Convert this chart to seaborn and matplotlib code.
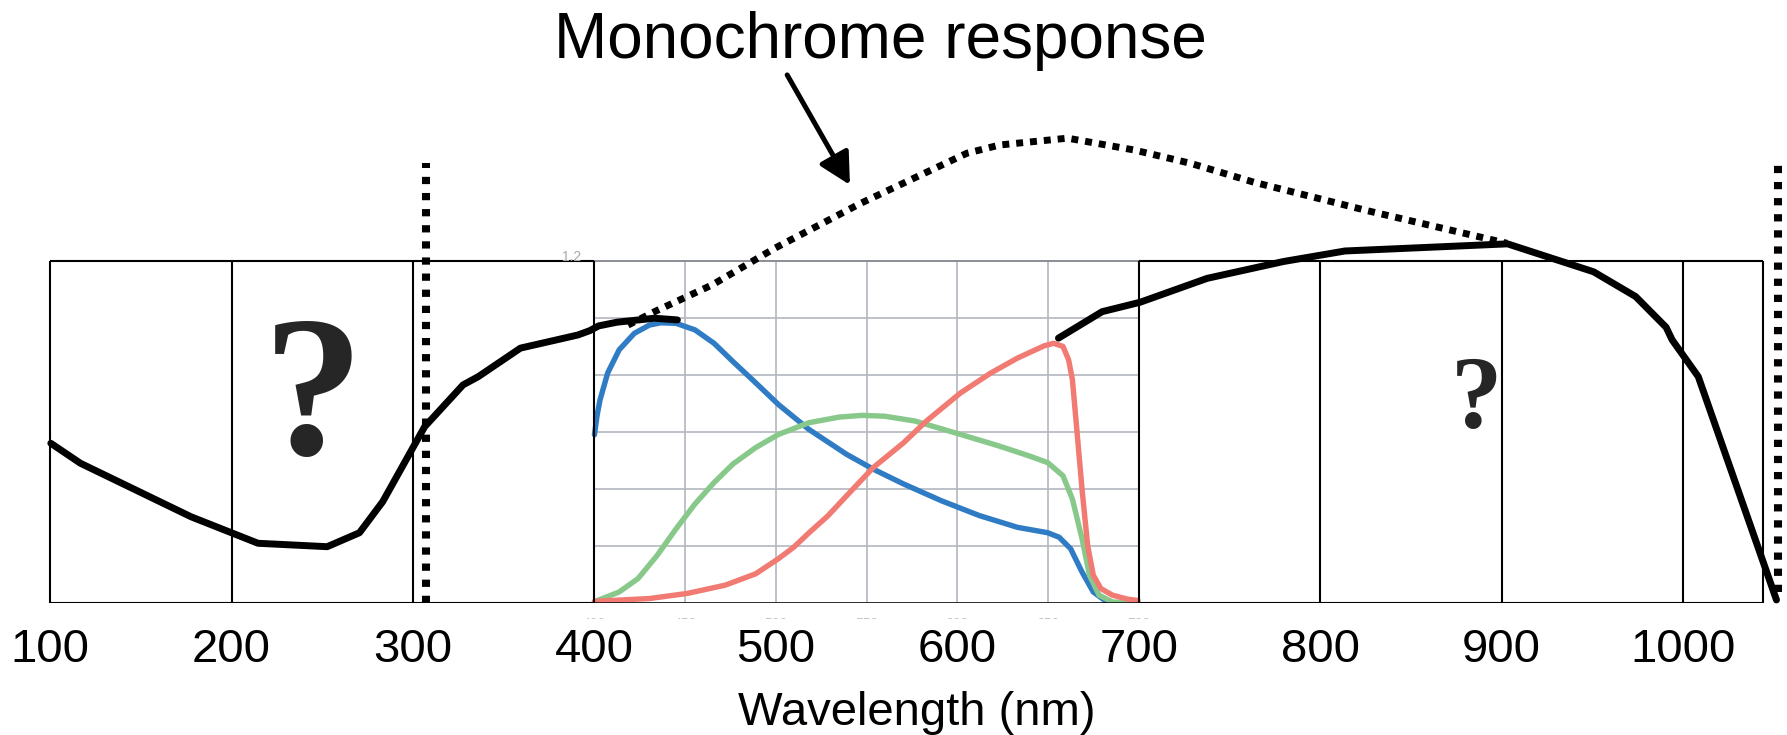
import matplotlib
matplotlib.use("Agg")
import matplotlib.pyplot as plt
import seaborn as sns
from matplotlib.transforms import Bbox, TransformedBbox

# ---------------- data ----------------
# measured monochrome response (solid black), wavelength in nm
mono_left_nm = [100.4, 116.7, 177.7, 214.6, 252.7, 270.5, 283.3, 306.4, 327.6, 336.0,
                359.2, 390.8, 397.3, 402.3, 412.4, 433.1, 445.7]
mono_left_resp = [0.560, 0.490, 0.302, 0.209, 0.197, 0.246, 0.355, 0.618, 0.765, 0.794,
                  0.894, 0.940, 0.955, 0.972, 0.985, 0.999, 0.993]
mono_right_nm = [655.7, 679.8, 700.7, 737.7, 779.7, 813.6, 903.2, 950.6, 973.8, 990.6,
                 993.9, 1008.3, 1051.4]
mono_right_resp = [0.929, 1.022, 1.055, 1.139, 1.198, 1.235, 1.260, 1.162, 1.075, 0.967,
                   0.923, 0.794, 0.010]
# extrapolated monochrome response (dotted)
mono_dot_nm = [418.5, 433.1, 464.9, 499.2, 546.6, 575.9, 605.2, 623.3, 660.7, 697.0,
               728.3, 763.6, 826.2, 902.9]
mono_dot_resp = [0.975, 1.022, 1.116, 1.244, 1.402, 1.490, 1.578, 1.607, 1.631, 1.590,
                 1.543, 1.476, 1.376, 1.262]

# inner RGB response chart
blue_nm = [400, 401.5, 403.1, 407.3, 413.6, 422, 430.3, 436.6, 445, 455.4, 465.9, 476.3,
           488.9, 501.4, 518.1, 539, 553.7, 570.4, 591.3, 612.2, 633.1, 649.8, 656.1,
           662.4, 668.7, 674.9, 681.2, 685.4]
blue_resp = [0.59, 0.66, 0.713, 0.807, 0.888, 0.946, 0.975, 0.983, 0.981, 0.958, 0.911,
             0.847, 0.772, 0.696, 0.609, 0.521, 0.469, 0.417, 0.358, 0.306, 0.265, 0.246,
             0.230, 0.190, 0.108, 0.038, 0.009, 0.0]
green_nm = [400, 413.6, 424, 434.5, 445, 455.4, 465.9, 476.3, 488.9, 501.4, 518.1, 534.9,
            547.4, 559.9, 576.7, 601.8, 622.7, 639.4, 649.8, 658.2, 663.4, 668.7, 672.8,
            678.1, 685.4, 693.7]
green_resp = [0.004, 0.038, 0.085, 0.166, 0.260, 0.347, 0.422, 0.487, 0.545, 0.591, 0.632,
              0.652, 0.658, 0.655, 0.638, 0.591, 0.551, 0.516, 0.492, 0.446, 0.364, 0.225,
              0.097, 0.027, 0.003, 0.0]
red_nm = [400, 430.3, 451.2, 472.1, 488.9, 501.4, 509.8, 518.1, 528.6, 539, 553.7, 570.4,
          582.9, 601.8, 618.5, 633.1, 647.8, 653, 658.2, 661.3, 663.4, 665.5, 668.7, 671.8,
          674.9, 679.1, 685.4, 693.7, 699.6]
red_resp = [0.005, 0.015, 0.033, 0.062, 0.102, 0.155, 0.195, 0.245, 0.305, 0.376, 0.475,
            0.562, 0.638, 0.737, 0.807, 0.859, 0.902, 0.911, 0.900, 0.853, 0.783, 0.632,
            0.399, 0.201, 0.097, 0.050, 0.027, 0.013, 0.008]

# axis ticks / labels / structure
tick_values = [100, 200, 300, 400, 500, 600, 700, 800, 900, 1000]
tick_labels = ["100", "200", "300", "400", "500", "600", "700", "800", "900", "1000"]
box_lines_nm = [100, 200, 300, 400, 700, 800, 900, 1000, 1044]
inner_grid_nm = [400, 450, 500, 550, 600, 650, 700]
inner_grid_resp = [0.0, 0.2, 0.4, 0.6, 0.8, 1.0, 1.2]
inner_tick_labels = ["400", "450", "500", "550", "600", "650", "700"]
cutoff_nm = [307, 1052.3]
cutoff_bottom = [0.0, 0.038]
cutoff_top = [1.544, 1.565]

# ---------------- figure ----------------
sns.set_style("white")
plt.rcParams["font.family"] = ["Liberation Sans", "DejaVu Sans"]

fig = plt.figure(figsize=(17.87, 7.35), dpi=100)
ax = fig.add_axes([0, 116 / 645, 1, 529 / 645])
ax.set_xlim(72.4, 1057.2)
ax.set_ylim(0, 2.116)

# inner chart grid
ax.vlines(inner_grid_nm, 0, 1.2, colors="#b3b7bf", lw=1.2, zorder=1)
ax.hlines(inner_grid_resp, 400, 700, colors="#b3b7bf", lw=1.2, zorder=1)
ax.hlines(1.2, 400, 700, colors="#888c92", lw=1.3, zorder=1)

# RGB curves
for xs, ys, c in [(blue_nm, blue_resp, "#2f7cc5"),
                  (green_nm, green_resp, "#88c98b"),
                  (red_nm, red_resp, "#f17b72")]:
    sns.lineplot(x=xs, y=ys, ax=ax, estimator=None, sort=False, legend=False,
                 color=c, lw=3.9, zorder=2)

# table boxes
ax.vlines(box_lines_nm, 0, 1.2, colors="black", lw=1.5, zorder=3)
ax.hlines([0, 1.2], 100, 400, colors="black", lw=1.5, zorder=3)
ax.hlines([0, 1.2], 700, 1044, colors="black", lw=1.5, zorder=3)
ax.hlines(0, 400, 700, colors="black", lw=1.8, zorder=3)

# monochrome response curves
for xs, ys in [(mono_left_nm, mono_left_resp), (mono_right_nm, mono_right_resp)]:
    sns.lineplot(x=xs, y=ys, ax=ax, estimator=None, sort=False, legend=False,
                 color="black", lw=5, zorder=4, clip_on=False)
sns.lineplot(x=mono_dot_nm, y=mono_dot_resp, ax=ax, estimator=None, sort=False,
             legend=False, color="black", lw=5.0, linestyle=(0, (1, 1)),
             dash_capstyle="butt", zorder=5)

# cutoff dotted verticals
for xn, yb, yt in zip(cutoff_nm, cutoff_bottom, cutoff_top):
    ax.plot([xn, xn], [yb, yt], color="black", lw=5.8, linestyle=(0, (0.9, 1.1)),
            dash_capstyle="butt", zorder=5)

# arrow + title
ax.annotate("", xy=(540.8, 1.467), xytext=(506.2, 1.853),
            arrowprops=dict(arrowstyle="-|>,head_length=0.95,head_width=0.5",
                            mutation_scale=20, lw=3.6, color="black",
                            shrinkA=0, shrinkB=0), zorder=6)
ax.text(557.7, 1.912, "Monochrome response", ha="center", va="baseline",
        fontsize=46, color="black")

# question marks
ax.text(244.8, 0.522, "?", ha="center", va="baseline", fontsize=145,
        family=["Liberation Serif", "DejaVu Serif"], fontweight="bold")
ax.text(886.3, 0.613, "?", ha="center", va="baseline", fontsize=74,
        family=["Liberation Serif", "DejaVu Serif"], fontweight="bold")

# inner chart tiny labels (mostly cropped)
ax.text(387.6, 1.214, "1.2", ha="center", va="center", fontsize=10, color="#a8a8a8")
clip = TransformedBbox(Bbox([[380, -0.058], [720, 0.0]]), ax.transData)
for xn, lab in zip(inner_grid_nm, inner_tick_labels):
    t = ax.text(xn, -0.05, lab, ha="center", va="top", fontsize=10, color="#c4c4c4",
                clip_on=True)
    t.set_clip_box(clip)

# axis
ax.set_xticks(tick_values)
ax.set_xticklabels(tick_labels)
ax.set_yticks([])
ax.tick_params(axis="x", length=0, pad=18, labelsize=34, colors="black")
ax.set_xlabel("Wavelength (nm)", fontsize=34, color="black")
ax.xaxis.label.set_va("baseline")
ax.xaxis.set_label_coords(0.513, -0.2024)
for s in ax.spines.values():
    s.set_visible(False)
ax.patch.set_alpha(0)

fig.savefig("out.png", dpi=100)
